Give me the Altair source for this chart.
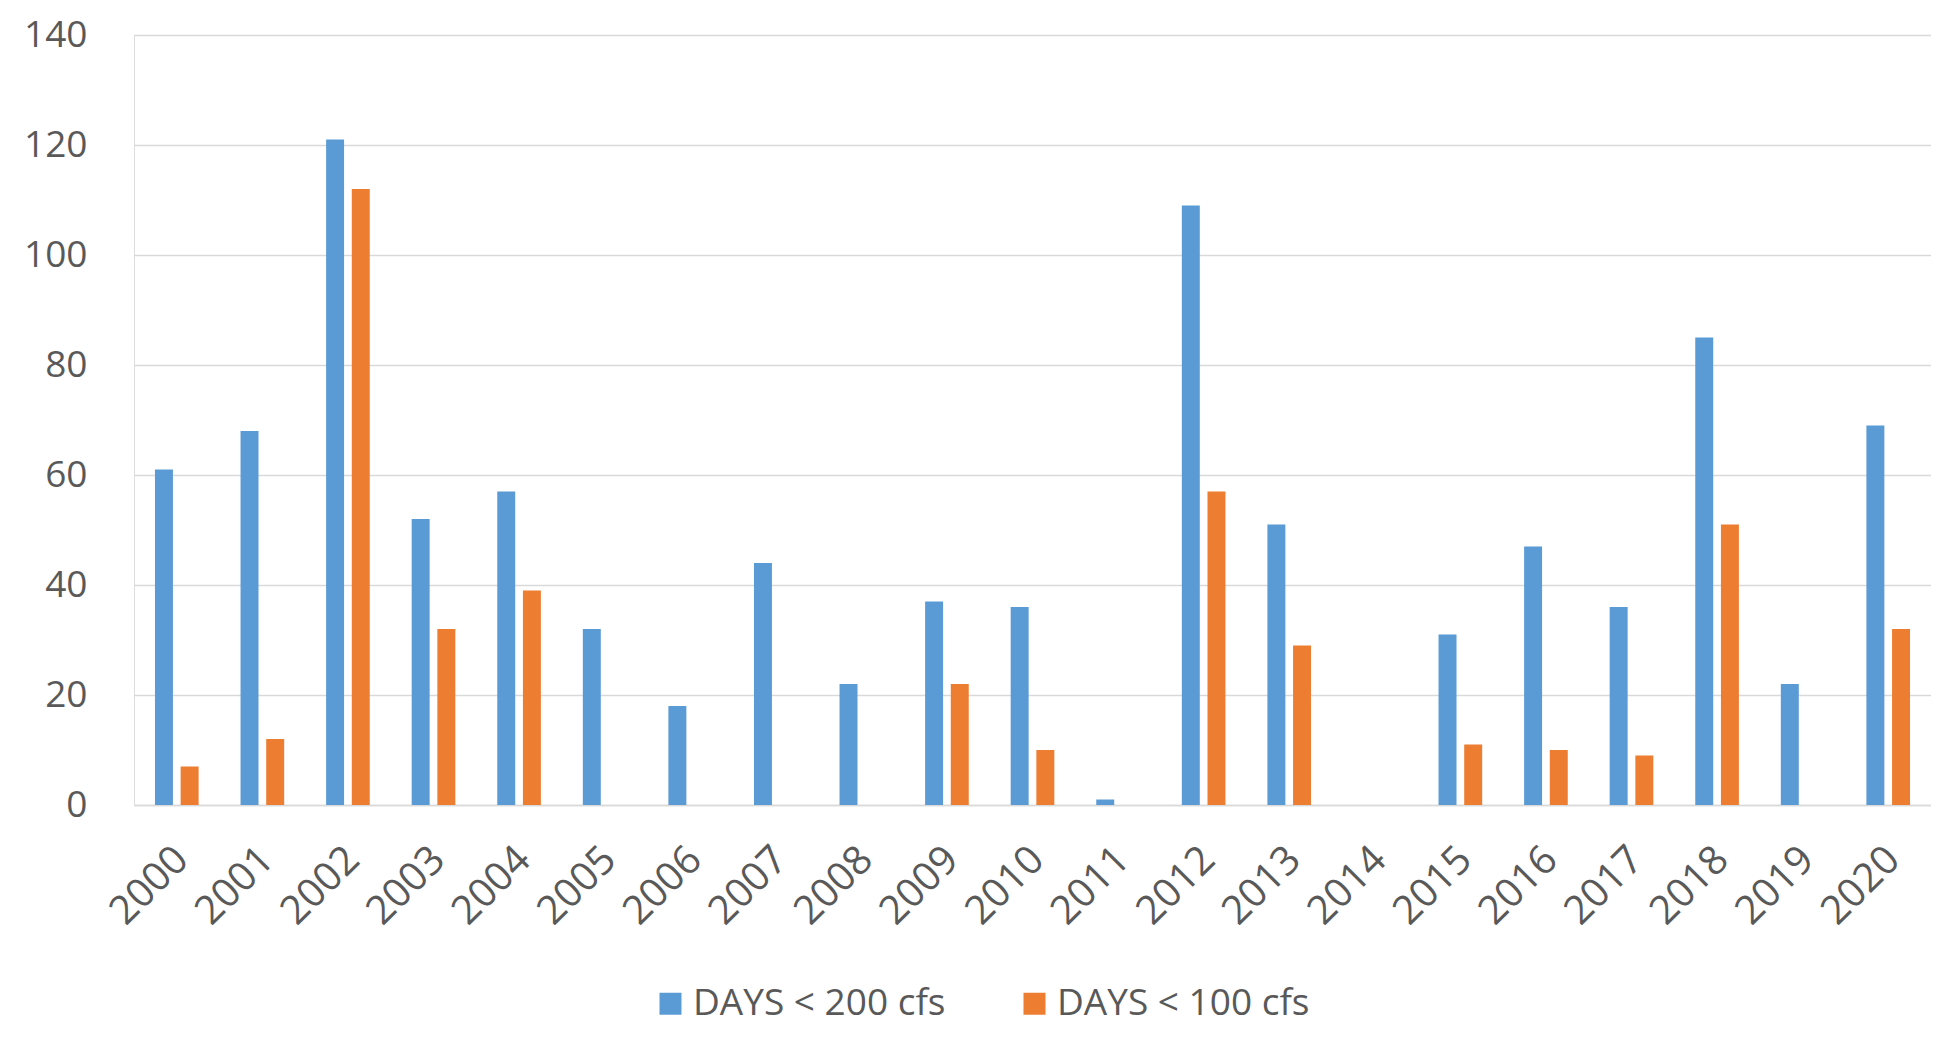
import altair as alt
import pandas as pd

years = [str(y) for y in range(2000, 2021)]
days_200 = [61, 68, 121, 52, 57, 32, 18, 44, 22, 37, 36, 1, 109, 51, 0, 31, 47, 36, 85, 22, 69]
days_100 = [7, 12, 112, 32, 39, 0, 0, 0, 0, 22, 10, 0, 57, 29, 0, 11, 10, 9, 51, 0, 32]
series = ["DAYS < 200 cfs", "DAYS < 100 cfs"]
colors = ["#5B9BD5", "#ED7D31"]
y_ticks = [0, 20, 40, 60, 80, 100, 120, 140]

rows = []
for i, yr in enumerate(years):
    rows.append({"year": yr, "series": series[0], "days": days_200[i]})
    rows.append({"year": yr, "series": series[1], "days": days_100[i]})
df = pd.DataFrame(rows)

FONT = "Open Sans"
TXT = "#595959"

chart = (
    alt.Chart(df)
    .mark_bar()
    .encode(
        x=alt.X(
            "year:N",
            sort=years,
            scale=alt.Scale(paddingInner=0.49, paddingOuter=0.245),
            axis=alt.Axis(
                title=None,
                labelAngle=-45,
                labelAlign="right",
                labelBaseline="top",
                labelPadding=34,
                labelOffset=-9,
                labelFont=FONT,
                labelFontSize=40,
                labelColor=TXT,
                ticks=False,
                domainColor="#D9D9D9",
                domainWidth=1.5,
                grid=False,
            ),
        ),
        xOffset=alt.XOffset("series:N", sort=series, scale=alt.Scale(paddingInner=0.3)),
        y=alt.Y(
            "days:Q",
            scale=alt.Scale(domain=[0, 140], nice=False),
            axis=alt.Axis(
                title=None,
                values=y_ticks,
                labelFont=FONT,
                labelFontSize=37,
                labelColor=TXT,
                labelPadding=47,
                ticks=False,
                domain=False,
                gridColor="#D9D9D9",
                gridWidth=1.5,
            ),
        ),
        color=alt.Color(
            "series:N",
            sort=series,
            scale=alt.Scale(domain=series, range=colors),
            legend=alt.Legend(
                title=None,
                orient="none",
                direction="horizontal",
                legendX=518,
                legendY=950,
                symbolType="square",
                symbolSize=484,
                symbolStrokeWidth=0,
                labelFont=FONT,
                labelFontSize=37,
                labelColor=TXT,
                labelLimit=0,
                labelOffset=4,
                columnPadding=70,
            ),
        ),
    )
    .properties(
        width=1797,
        height=770,
        padding={"left": 15, "top": 8, "right": 0, "bottom": 8},
    )
    .configure_view(stroke=None)
    .configure(background="white")
)

chart.save("out.html", embed_options={"renderer": "svg", "actions": False})
